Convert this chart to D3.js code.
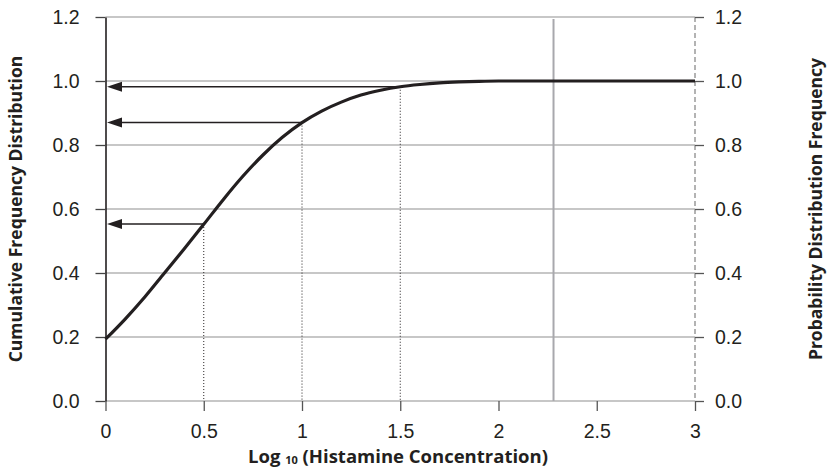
<!DOCTYPE html>
<html>
<head>
<meta charset="utf-8">
<script src="https://cdn.jsdelivr.net/npm/d3@7"></script>
<style>
  html, body { margin: 0; padding: 0; background: #fff; }
  svg { display: block; font-family: "Open Sans", "Noto Sans", sans-serif; }
</style>
</head>
<body>
<svg id="chart" width="828" height="473"></svg>
<script>
// ---- data ----
const curveX = [0, 0.1, 0.2, 0.3, 0.4, 0.5, 0.6, 0.7, 0.8, 0.9, 1.0, 1.1, 1.2, 1.3, 1.4, 1.5, 1.6, 1.7, 1.8, 1.9, 2.0, 2.5, 3.0];
const curveY = [0.193, 0.256, 0.325, 0.400, 0.475, 0.552, 0.630, 0.703, 0.768, 0.824, 0.870, 0.906, 0.934, 0.956, 0.971, 0.982, 0.989, 0.994, 0.997, 0.999, 1.0, 1.0, 1.0];
const arrowX = [0.5, 1.0, 1.5];
const arrowY = [0.553, 0.870, 0.982];
const xTicks = [0, 0.5, 1, 1.5, 2, 2.5, 3];
const xTickLabels = ["0", "0.5", "1", "1.5", "2", "2.5", "3"];
const yTicks = [0, 0.2, 0.4, 0.6, 0.8, 1.0, 1.2];
const yTickLabels = ["0.0", "0.2", "0.4", "0.6", "0.8", "1.0", "1.2"];
const refLineX = 2.28;
const leftTitle = "Cumulative Frequency Distribution";
const rightTitle = "Probability Distribution Frequency";

// ---- drawing ----
const svg = d3.select("#chart");
const x = d3.scaleLinear().domain([0, 3]).range([105.5, 695]);
const y = d3.scaleLinear().domain([0, 1.2]).range([401, 17]);
const ink = "#231f20";
const tickFont = 19.5;

// gridlines
svg.append("g").selectAll("line").data(yTicks).join("line")
  .attr("x1", x(0)).attr("x2", x(3))
  .attr("y1", d => y(d)).attr("y2", d => y(d))
  .attr("stroke", "#b4b4b4").attr("stroke-width", 1.3);

// vertical gray reference line
svg.append("line")
  .attr("x1", x(refLineX)).attr("x2", x(refLineX))
  .attr("y1", y(1.2) + 2).attr("y2", y(0))
  .attr("stroke", "#a8a8ad").attr("stroke-width", 2);

// dashed right border
svg.append("line")
  .attr("x1", x(3)).attr("x2", x(3))
  .attr("y1", y(1.2)).attr("y2", y(0))
  .attr("stroke", "#9a9a9a").attr("stroke-width", 1.5)
  .attr("stroke-dasharray", "5,3");

// left axis
const gL = svg.append("g").attr("transform", `translate(${x(0)},0)`)
  .call(d3.axisLeft(y).tickValues(yTicks).tickFormat((d, i) => yTickLabels[i])
    .tickSize(10).tickSizeOuter(0).tickPadding(16));
gL.select(".domain").attr("stroke", ink).attr("stroke-width", 1.6);
gL.selectAll(".tick line").attr("stroke", "#444").attr("stroke-width", 1.3);
gL.selectAll(".tick text").attr("fill", ink).attr("font-size", tickFont);

// right axis
const gR = svg.append("g").attr("transform", `translate(${x(3)},0)`)
  .call(d3.axisRight(y).tickValues(yTicks).tickFormat((d, i) => yTickLabels[i])
    .tickSize(9).tickSizeOuter(0).tickPadding(11));
gR.select(".domain").remove();
gR.selectAll(".tick line").attr("stroke", "#555").attr("stroke-width", 1.3);
gR.selectAll(".tick text").attr("fill", ink).attr("font-size", tickFont);

// bottom axis
const gB = svg.append("g").attr("transform", `translate(0,${y(0)})`)
  .call(d3.axisBottom(x).tickValues(xTicks).tickFormat((d, i) => xTickLabels[i])
    .tickSize(10).tickSizeOuter(0).tickPadding(13));
gB.select(".domain").remove();
gB.selectAll(".tick line").attr("stroke", "#555").attr("stroke-width", 1.3);
gB.selectAll(".tick text").attr("fill", ink).attr("font-size", tickFont);

// dotted drop lines
svg.append("g").selectAll("line").data(arrowX).join("line")
  .attr("x1", d => x(d)).attr("x2", d => x(d))
  .attr("y1", (d, i) => y(arrowY[i])).attr("y2", y(0))
  .attr("stroke", ink).attr("stroke-width", 1)
  .attr("stroke-dasharray", "1,2");

// arrows
const head = 15, half = 5;
const ga = svg.append("g");
ga.selectAll("line").data(arrowX).join("line")
  .attr("x1", x(0) + head - 1).attr("x2", d => x(d))
  .attr("y1", (d, i) => y(arrowY[i])).attr("y2", (d, i) => y(arrowY[i]))
  .attr("stroke", ink).attr("stroke-width", 1.5);
ga.selectAll("path").data(arrowY).join("path")
  .attr("d", d => {
    const p = d3.path();
    const tx = x(0) + 1.5, ty = y(d);
    p.moveTo(tx, ty);
    p.lineTo(tx + head, ty - half);
    p.lineTo(tx + head, ty + half);
    p.closePath();
    return p.toString();
  })
  .attr("fill", ink);

// curve
const line = d3.line().x(d => x(d[0])).y(d => y(d[1])).curve(d3.curveMonotoneX);
svg.append("path")
  .datum(curveX.map((v, i) => [v, curveY[i]]))
  .attr("d", line)
  .attr("fill", "none").attr("stroke", ink).attr("stroke-width", 3.2)
  .attr("stroke-linecap", "butt");

// titles
const midY = (y(0) + y(1.2)) / 2;
svg.append("text")
  .attr("transform", `translate(22,${midY}) rotate(-90)`)
  .attr("text-anchor", "middle").attr("fill", ink)
  .attr("font-size", 17.5).attr("font-weight", 700)
  .text(leftTitle);
svg.append("text")
  .attr("transform", `translate(822,${midY}) rotate(-90)`)
  .attr("text-anchor", "middle").attr("fill", ink)
  .attr("font-size", 17.5).attr("font-weight", 700)
  .text(rightTitle);

const xt = svg.append("text")
  .attr("x", 398).attr("y", 463)
  .attr("text-anchor", "middle").attr("fill", ink)
  .attr("font-size", 18.5).attr("font-weight", 700);
xt.append("tspan").text("Log ");
xt.append("tspan").attr("font-size", 11).attr("dy", 1).text("10");
xt.append("tspan").attr("dy", -1).text(" (Histamine Concentration)");
</script>
</body>
</html>
